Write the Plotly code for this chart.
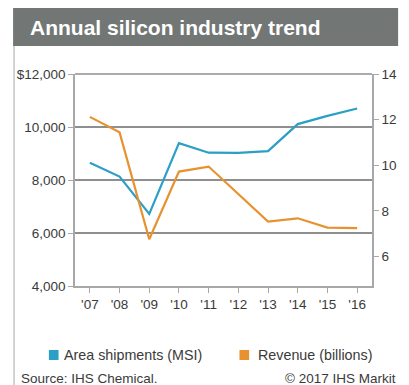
import plotly.graph_objects as go

years = ["'07", "'08", "'09", "'10", "'11", "'12", "'13", "'14", "'15", "'16"]
area_msi = [8650, 8130, 6720, 9390, 9030, 9020, 9090, 10110, 10420, 10700]
revenue_bn = [12.12, 11.44, 6.75, 9.72, 9.94, 8.72, 7.53, 7.67, 7.26, 7.24]
left_ticks = [4000, 6000, 8000, 10000, 12000]
left_ticktext = ["4,000", "6,000", "8,000", "10,000", "$12,000"]
right_ticks = [6, 8, 10, 12, 14]

BLUE = "#2b9fc6"
ORANGE = "#e8922f"
TXT = "#3a3a3a"
W, H = 409, 385
L, R, T, B = 75, 382, 74, 286

def px(x):
    return (x - L) / (R - L)

def py(y):
    return (B - y) / (B - T)

fig = go.Figure()
fig.add_trace(go.Scatter(x=years, y=area_msi, mode="lines", name="Area shipments (MSI)",
                         line=dict(color=BLUE, width=2.2), yaxis="y"))
fig.add_trace(go.Scatter(x=years, y=revenue_bn, mode="lines", name="Revenue (billions)",
                         line=dict(color=ORANGE, width=2.2), yaxis="y2"))

tickfont = dict(size=13.5, color=TXT)
fig.update_layout(
    width=W, height=H,
    margin=dict(l=L, r=W - R, t=T, b=H - B),
    paper_bgcolor="white", plot_bgcolor="white",
    showlegend=False,
    font=dict(family="Liberation Sans, Arial, sans-serif", color=TXT, size=12),
    xaxis=dict(type="category", range=[-0.5, 9.5], showgrid=False,
               showline=True, linecolor="#a8a8a8", linewidth=1.5,
               ticks="outside", ticklen=5, tickcolor="#a8a8a8",
               tickfont=tickfont, zeroline=False),
    yaxis=dict(range=[4000, 12000], tickvals=left_ticks, ticktext=left_ticktext,
               showgrid=True, gridcolor="#8f8f8f", gridwidth=1.5,
               showline=True, linecolor="#a8a8a8", linewidth=1.5,
               ticks="outside", ticklen=5, tickcolor="#a8a8a8",
               tickfont=tickfont, zeroline=False),
    yaxis2=dict(range=[4.7, 14], tickvals=right_ticks, overlaying="y", side="right",
                showgrid=False, showline=True, linecolor="#a8a8a8", linewidth=1.5,
                ticks="outside", ticklen=5, tickcolor="#a8a8a8",
                tickfont=tickfont, zeroline=False),
)

shapes = [
    # title band
    dict(type="rect", xref="paper", yref="paper", x0=px(11), x1=px(409), y0=py(46), y1=py(8),
         fillcolor="#727775", line=dict(width=0), layer="below"),
    # left frame line
    dict(type="line", xref="paper", yref="paper", x0=px(12), x1=px(12), y0=py(46), y1=py(385),
         line=dict(color="#b5b5b5", width=1.2)),
    # top gridline at 12,000
    dict(type="line", xref="paper", yref="paper", x0=0, x1=1, y0=1, y1=1,
         line=dict(color="#8f8f8f", width=1.5)),
    # legend swatches
    dict(type="rect", xref="paper", yref="paper", x0=px(48), x1=px(58), y0=py(360), y1=py(350),
         fillcolor=BLUE, line=dict(width=0)),
    dict(type="rect", xref="paper", yref="paper", x0=px(245), x1=px(255), y0=py(360), y1=py(350),
         fillcolor=ORANGE, line=dict(width=0)),
]
fig.update_layout(shapes=shapes)

ann = [
    dict(text="<b>Annual silicon industry trend</b>", x=px(26), y=py(27), xanchor="left", yanchor="middle",
         font=dict(size=21, color="white")),
    dict(text="Area shipments (MSI)", x=px(62), y=py(355), xanchor="left", yanchor="middle",
         font=dict(size=14.3, color=TXT)),
    dict(text="Revenue (billions)", x=px(262), y=py(355), xanchor="left", yanchor="middle",
         font=dict(size=14.3, color=TXT)),
    dict(text="Source: IHS Chemical.", x=px(17), y=py(378), xanchor="left", yanchor="middle",
         font=dict(size=13.5, color=TXT)),
    dict(text="© 2017 IHS Markit", x=px(290), y=py(378), xanchor="left", yanchor="middle",
         font=dict(size=13.5, color=TXT)),
]
for a in ann:
    a.update(xref="paper", yref="paper", showarrow=False)
fig.update_layout(annotations=ann)

fig.write_html("out.html")
